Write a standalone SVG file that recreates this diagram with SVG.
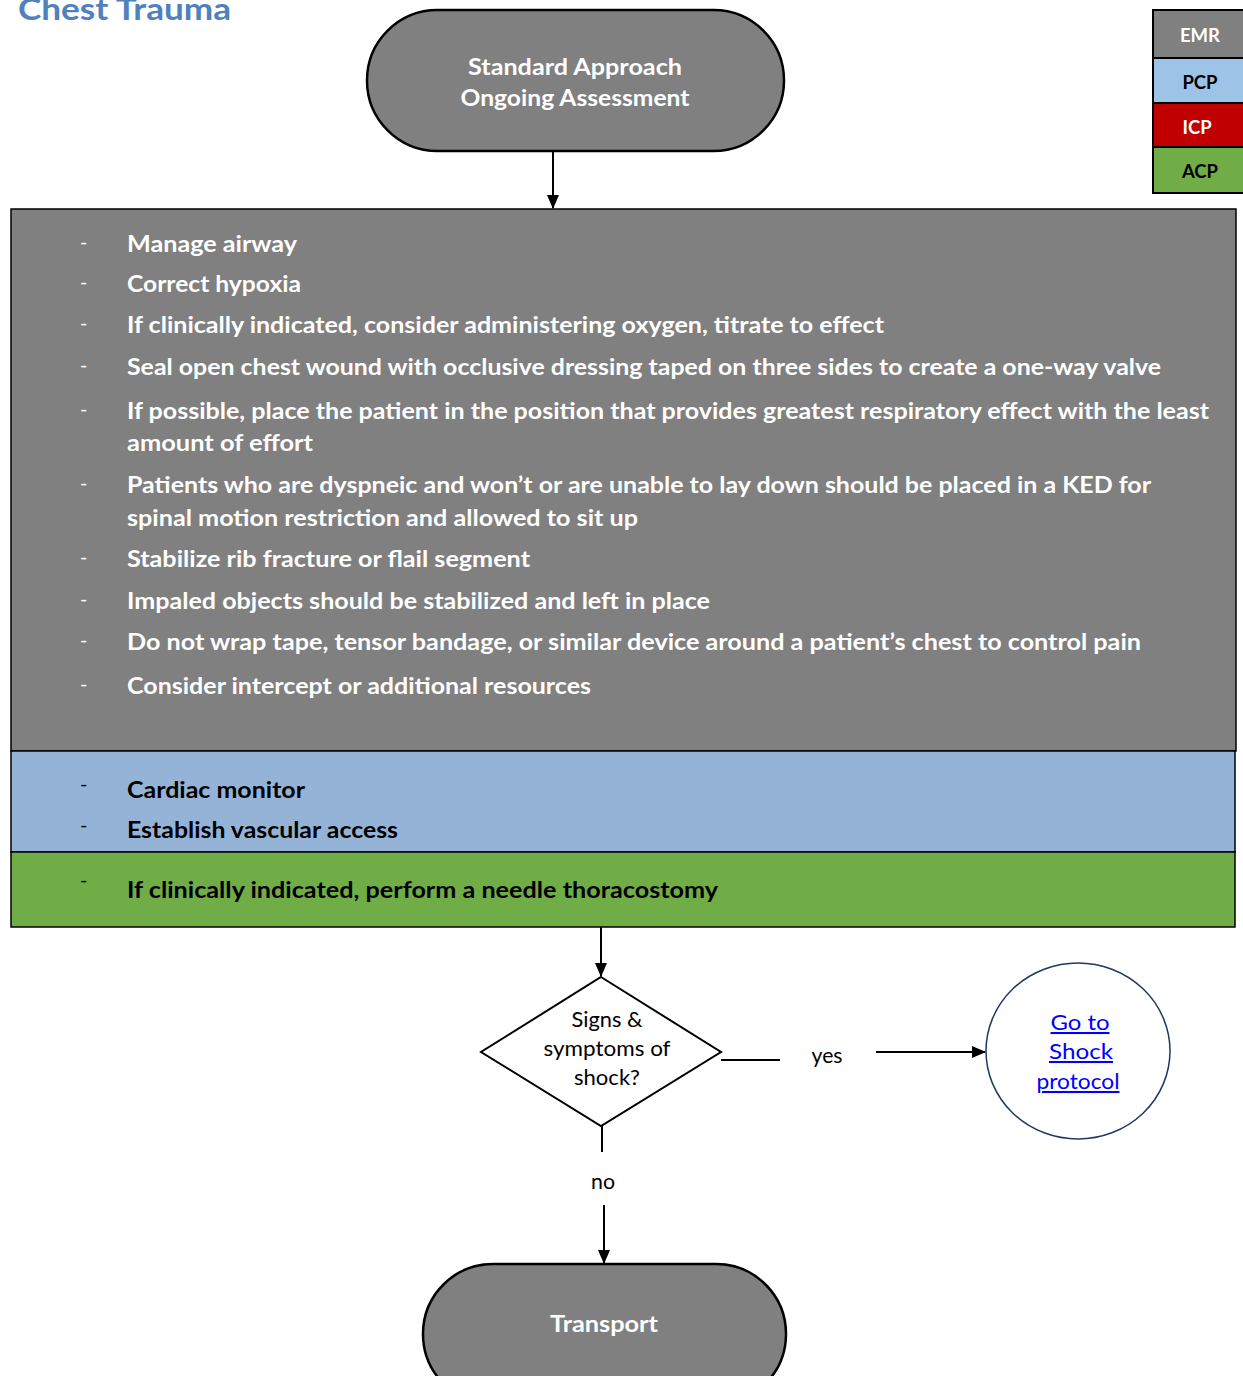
<svg xmlns="http://www.w3.org/2000/svg" width="1243" height="1376" viewBox="0 0 1243 1376">
<defs>
<marker id="ah" markerWidth="14" markerHeight="14" refX="13" refY="7" orient="auto" markerUnits="userSpaceOnUse">
<path d="M0,1 L14,7 L0,13 z" fill="#000"/>
</marker>
<style>
text{font-family:Lato,"Liberation Sans",sans-serif}
.w{fill:#fff;font-weight:bold;font-size:23px}
.k{fill:#000;font-weight:bold;font-size:23px}
.c{text-anchor:middle}
.n{fill:#000;font-size:20.5px}
.lnk{fill:#0000ff;font-size:20.5px;text-decoration:underline}
.dash{fill:#fff;font-size:20px}
.dk{fill:#000;font-size:20px}
.conn{stroke:#000;stroke-width:2;fill:none}
.pill{fill:#808080;stroke:#000;stroke-width:2.5}
.lg{font-weight:bold;font-size:18.5px;text-anchor:middle}
</style>
</defs>
<rect width="1243" height="1376" fill="#fff"/>
<g id="title"><text x="18" y="20" textLength="213" lengthAdjust="spacingAndGlyphs" style="font-weight:bold;font-size:31px;fill:#4F81BD">Chest Trauma</text></g>

<g id="legend">
<rect x="1153" y="10" width="95" height="48" fill="#808080" stroke="#000" stroke-width="2"/>
<rect x="1153" y="58" width="95" height="45" fill="#9DC3E6" stroke="#000" stroke-width="2"/>
<rect x="1153" y="103" width="95" height="44" fill="#C00000" stroke="#000" stroke-width="2"/>
<rect x="1153" y="147" width="95" height="46" fill="#70AD47" stroke="#000" stroke-width="2"/>
<text class="lg" x="1200" y="42" fill="#fff">EMR</text>
<text class="lg" x="1200" y="89" fill="#000">PCP</text>
<text class="lg" x="1197" y="134" fill="#fff">ICP</text>
<text class="lg" x="1200" y="178" fill="#000">ACP</text>
</g>

<g id="start">
<rect class="pill" x="367" y="10" width="417" height="141" rx="70.5" ry="70.5"/>
<text class="w c" x="575" y="75" textLength="214" lengthAdjust="spacingAndGlyphs">Standard Approach</text>
<text class="w c" x="575" y="106" textLength="229" lengthAdjust="spacingAndGlyphs">Ongoing Assessment</text>
</g>

<g id="emr-box">
<rect x="11" y="209" width="1225" height="542" fill="#808080" stroke="#000" stroke-width="1.5"/>
<g class="dash">
<text x="80" y="249">-</text><text x="80" y="289">-</text><text x="80" y="330">-</text><text x="80" y="372">-</text>
<text x="80" y="416">-</text><text x="80" y="490">-</text><text x="80" y="564">-</text><text x="80" y="606">-</text>
<text x="80" y="647">-</text><text x="80" y="691">-</text>
</g>
<text class="w" x="127" y="252" textLength="170" lengthAdjust="spacingAndGlyphs">Manage airway</text>
<text class="w" x="127" y="292" textLength="174" lengthAdjust="spacingAndGlyphs">Correct hypoxia</text>
<text class="w" x="127" y="333" textLength="757" lengthAdjust="spacingAndGlyphs">If clinically indicated, consider administering oxygen, titrate to effect</text>
<text class="w" x="127" y="375" textLength="1034" lengthAdjust="spacingAndGlyphs">Seal open chest wound with occlusive dressing taped on three sides to create a one-way valve</text>
<text class="w" x="127" y="419" textLength="1082" lengthAdjust="spacingAndGlyphs">If possible, place the patient in the position that provides greatest respiratory effect with the least</text>
<text class="w" x="127" y="451" textLength="186" lengthAdjust="spacingAndGlyphs">amount of effort</text>
<text class="w" x="127" y="493" textLength="1024" lengthAdjust="spacingAndGlyphs">Patients who are dyspneic and won’t or are unable to lay down should be placed in a KED for</text>
<text class="w" x="127" y="526" textLength="511" lengthAdjust="spacingAndGlyphs">spinal motion restriction and allowed to sit up</text>
<text class="w" x="127" y="567" textLength="403" lengthAdjust="spacingAndGlyphs">Stabilize rib fracture or flail segment</text>
<text class="w" x="127" y="609" textLength="583" lengthAdjust="spacingAndGlyphs">Impaled objects should be stabilized and left in place</text>
<text class="w" x="127" y="650" textLength="1014" lengthAdjust="spacingAndGlyphs">Do not wrap tape, tensor bandage, or similar device around a patient’s chest to control pain</text>
<text class="w" x="127" y="694" textLength="464" lengthAdjust="spacingAndGlyphs">Consider intercept or additional resources</text>
</g>

<g id="pcp-box">
<rect x="11" y="751" width="1224" height="101" fill="#95B3D7" stroke="#000" stroke-width="1.5"/>
<text class="dk" x="80" y="791">-</text><text class="dk" x="80" y="832">-</text>
<text class="k" x="127" y="798" textLength="178" lengthAdjust="spacingAndGlyphs">Cardiac monitor</text>
<text class="k" x="127" y="838" textLength="271" lengthAdjust="spacingAndGlyphs">Establish vascular access</text>
</g>

<g id="acp-box">
<rect x="11" y="852" width="1224" height="75" fill="#70AD47" stroke="#000" stroke-width="1.5"/>
<text class="dk" x="80" y="887">-</text>
<text class="k" x="127" y="898" textLength="591" lengthAdjust="spacingAndGlyphs">If clinically indicated, perform a needle thoracostomy</text>
</g>

<g id="decision">
<polygon points="601,977 721,1052 601,1126 481,1052" fill="#fff" stroke="#000" stroke-width="2"/>
<text class="n c" x="607" y="1027" textLength="71" lengthAdjust="spacingAndGlyphs">Signs &amp;</text>
<text class="n c" x="607" y="1056" textLength="127" lengthAdjust="spacingAndGlyphs">symptoms of</text>
<text class="n c" x="607" y="1085" textLength="66" lengthAdjust="spacingAndGlyphs">shock?</text>
</g>

<g id="shock">
<ellipse cx="1078" cy="1051" rx="92" ry="88" fill="#fff" stroke="#1F3864" stroke-width="1.5"/>
<text class="lnk c" x="1080" y="1030" textLength="59" lengthAdjust="spacingAndGlyphs">Go to </text>
<text class="lnk c" x="1081" y="1059" textLength="64" lengthAdjust="spacingAndGlyphs">Shock </text>
<text class="lnk c" x="1078" y="1089" textLength="83" lengthAdjust="spacingAndGlyphs">protocol</text>
</g>

<g id="transport">
<rect class="pill" x="423" y="1264" width="363" height="140" rx="70" ry="70"/>
<text class="w c" x="604" y="1332" textLength="108" lengthAdjust="spacingAndGlyphs">Transport</text>
</g>

<g id="connectors">
<line class="conn" x1="553" y1="152" x2="553" y2="208" marker-end="url(#ah)"/>
<line class="conn" x1="601" y1="927" x2="601" y2="976" marker-end="url(#ah)"/>
<line class="conn" x1="721" y1="1060" x2="780" y2="1060"/>
<text class="n c" x="827" y="1063" textLength="31" lengthAdjust="spacingAndGlyphs">yes</text>
<line class="conn" x1="876" y1="1052" x2="985" y2="1052" marker-end="url(#ah)"/>
<line class="conn" x1="602" y1="1126" x2="602" y2="1152"/>
<text class="n c" x="603" y="1189" textLength="24" lengthAdjust="spacingAndGlyphs">no</text>
<line class="conn" x1="604" y1="1205" x2="604" y2="1263" marker-end="url(#ah)"/>
</g>
</svg>
